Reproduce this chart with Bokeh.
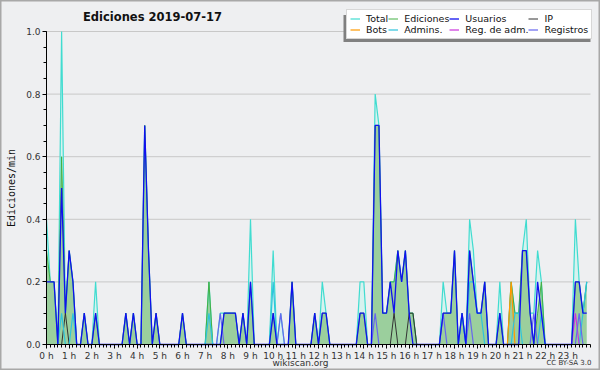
from bokeh.plotting import figure
from bokeh.models import (ColumnDataSource, Range1d, FixedTicker, Legend, LegendItem,
                          Label)
from bokeh.embed import file_html
from bokeh.resources import INLINE

TITLE = "Ediciones  2019-07-17"
Y_LABEL = "Ediciones/min"
HOURS = list(range(24))
HOUR_LABELS = [f"{h} h" for h in HOURS]
Y_TICKS = [0.0, 0.2, 0.4, 0.6, 0.8, 1.0]
BIN_MINUTES = 10

# actions per 10-minute bin (144 bins, two hours per row)
TOTAL = [4, 2, 2, 0, 10, 1, 3, 2, 0, 0, 1, 0,
         0, 2, 0, 0, 0, 0, 0, 0, 0, 1, 0, 1,
         0, 0, 7, 3, 0, 1, 0, 0, 0, 0, 0, 0,
         1, 0, 0, 0, 0, 0, 0, 2, 0, 0, 1, 1,
         1, 1, 1, 0, 1, 0, 4, 0, 0, 0, 0, 0,
         3, 0, 1, 0, 0, 2, 0, 0, 0, 0, 0, 1,
         0, 2, 1, 0, 0, 0, 0, 0, 0, 0, 0, 2,
         2, 0, 0, 8, 7, 1, 1, 2, 2, 3, 2, 3,
         1, 1, 0, 0, 0, 0, 0, 0, 0, 2, 1, 1,
         3, 0, 1, 0, 4, 3, 1, 1, 2, 0, 0, 0,
         2, 0, 0, 2, 1, 1, 3, 4, 1, 1, 3, 2,
         0, 0, 0, 0, 0, 0, 0, 0, 4, 2, 1, 2]

EDICIONES = [3, 2, 2, 0, 6, 1, 3, 2, 0, 0, 1, 0,
             0, 1, 0, 0, 0, 0, 0, 0, 0, 1, 0, 1,
             0, 0, 7, 3, 0, 1, 0, 0, 0, 0, 0, 0,
             1, 0, 0, 0, 0, 0, 0, 2, 0, 0, 0, 1,
             1, 1, 1, 0, 1, 0, 2, 0, 0, 0, 0, 0,
             1, 0, 0, 0, 0, 2, 0, 0, 0, 0, 0, 1,
             0, 1, 1, 0, 0, 0, 0, 0, 0, 0, 0, 1,
             1, 0, 0, 7, 7, 1, 1, 2, 2, 3, 2, 3,
             1, 1, 0, 0, 0, 0, 0, 0, 0, 1, 1, 1,
             3, 0, 1, 0, 3, 2, 1, 1, 2, 0, 0, 0,
             1, 0, 0, 2, 1, 1, 3, 3, 1, 0, 1, 2,
             0, 0, 0, 0, 0, 0, 0, 0, 2, 2, 1, 2]

USUARIOS = [2, 2, 2, 0, 5, 1, 3, 2, 0, 0, 1, 0,
            0, 1, 0, 0, 0, 0, 0, 0, 0, 1, 0, 1,
            0, 0, 7, 3, 0, 1, 0, 0, 0, 0, 0, 0,
            1, 0, 0, 0, 0, 0, 0, 0, 0, 0, 0, 1,
            1, 1, 1, 0, 1, 0, 2, 0, 0, 0, 0, 0,
            1, 0, 0, 0, 0, 2, 0, 0, 0, 0, 0, 1,
            0, 1, 1, 0, 0, 0, 0, 0, 0, 0, 0, 1,
            1, 0, 0, 7, 7, 1, 1, 2, 1, 3, 2, 3,
            1, 0, 0, 0, 0, 0, 0, 0, 0, 1, 1, 1,
            3, 0, 1, 0, 3, 2, 1, 1, 2, 0, 0, 0,
            1, 0, 0, 0, 0, 0, 3, 3, 1, 0, 2, 1,
            0, 0, 0, 0, 0, 0, 0, 0, 2, 2, 1, 1]

IP = [0, 0, 0, 0, 0, 1, 0, 0, 0, 0, 0, 0,
      0, 0, 0, 0, 0, 0, 0, 0, 0, 0, 0, 0,
      0, 0, 0, 0, 0, 0, 0, 0, 0, 0, 0, 0,
      0, 0, 0, 0, 0, 0, 0, 0, 0, 0, 0, 0,
      0, 0, 0, 0, 0, 0, 0, 0, 0, 0, 0, 0,
      0, 0, 0, 0, 0, 0, 0, 0, 0, 0, 0, 0,
      0, 0, 0, 0, 0, 0, 0, 0, 0, 0, 0, 0,
      0, 0, 0, 0, 0, 0, 0, 0, 1, 0, 0, 0,
      1, 1, 0, 0, 0, 0, 0, 0, 0, 0, 0, 0,
      0, 0, 0, 0, 0, 0, 0, 0, 0, 0, 0, 0,
      0, 0, 0, 0, 0, 0, 0, 0, 0, 0, 0, 0,
      0, 0, 0, 0, 0, 0, 0, 0, 0, 0, 0, 0]

BOTS = [0, 0, 0, 0, 0, 0, 0, 0, 0, 0, 0, 0,
        0, 0, 0, 0, 0, 0, 0, 0, 0, 0, 0, 0,
        0, 0, 0, 0, 0, 0, 0, 0, 0, 0, 0, 0,
        0, 0, 0, 0, 0, 0, 0, 0, 0, 0, 0, 0,
        0, 0, 0, 0, 0, 0, 0, 0, 0, 0, 0, 0,
        0, 0, 0, 0, 0, 0, 0, 0, 0, 0, 0, 0,
        0, 0, 0, 0, 0, 0, 0, 0, 0, 0, 0, 0,
        0, 0, 0, 0, 0, 0, 0, 0, 0, 0, 0, 0,
        0, 0, 0, 0, 0, 0, 0, 0, 0, 0, 0, 0,
        0, 0, 0, 0, 0, 0, 0, 0, 0, 0, 0, 0,
        0, 0, 0, 2, 0, 0, 0, 0, 0, 0, 0, 0,
        0, 0, 0, 0, 0, 0, 0, 0, 0, 0, 0, 0]

ADMINS = [0, 0, 0, 0, 1, 0, 0, 1, 0, 0, 0, 0,
          0, 0, 0, 0, 0, 0, 0, 0, 0, 0, 0, 0,
          0, 0, 0, 0, 0, 0, 0, 0, 0, 0, 0, 0,
          0, 0, 0, 0, 0, 0, 0, 1, 0, 0, 0, 0,
          0, 0, 0, 0, 0, 0, 0, 0, 0, 0, 0, 0,
          2, 0, 0, 0, 0, 0, 0, 0, 0, 0, 0, 0,
          0, 0, 0, 0, 0, 0, 0, 0, 0, 0, 0, 0,
          0, 0, 0, 0, 0, 0, 0, 0, 0, 0, 0, 0,
          0, 0, 0, 0, 0, 0, 0, 0, 0, 0, 0, 0,
          0, 0, 1, 0, 2, 2, 1, 1, 0, 0, 0, 0,
          0, 0, 0, 0, 1, 1, 0, 0, 0, 0, 0, 1,
          0, 0, 0, 0, 0, 0, 0, 0, 0, 0, 1, 2]

REG_ADM = [0, 0, 0, 0, 0, 0, 0, 0, 0, 0, 0, 0,
           0, 0, 0, 0, 0, 0, 0, 0, 0, 0, 0, 0,
           0, 0, 0, 0, 0, 0, 0, 0, 0, 0, 0, 0,
           0, 0, 0, 0, 0, 0, 0, 0, 0, 0, 0, 0,
           0, 0, 0, 0, 0, 0, 0, 0, 0, 0, 0, 0,
           0, 0, 0, 0, 0, 0, 0, 0, 0, 0, 0, 0,
           0, 0, 0, 0, 0, 0, 0, 0, 0, 0, 0, 0,
           0, 0, 0, 0, 0, 0, 0, 0, 0, 0, 0, 0,
           0, 0, 0, 0, 0, 0, 0, 0, 0, 0, 0, 0,
           0, 0, 0, 0, 0, 0, 0, 0, 0, 0, 0, 0,
           0, 0, 0, 0, 0, 0, 0, 0, 0, 0, 0, 0,
           0, 0, 0, 0, 0, 0, 0, 0, 1, 0, 0, 0]

REGISTROS = [0, 0, 0, 0, 0, 0, 0, 0, 0, 0, 0, 0,
             0, 0, 0, 0, 0, 0, 0, 0, 0, 0, 0, 0,
             0, 0, 0, 0, 0, 0, 0, 0, 0, 0, 0, 0,
             0, 0, 0, 0, 0, 0, 0, 0, 0, 0, 1, 0,
             0, 0, 0, 0, 0, 0, 0, 0, 0, 0, 0, 0,
             0, 0, 1, 0, 0, 0, 0, 0, 0, 0, 0, 0,
             0, 0, 0, 0, 0, 0, 0, 0, 0, 0, 0, 0,
             0, 0, 0, 1, 0, 0, 0, 0, 0, 0, 0, 0,
             0, 0, 0, 0, 0, 0, 0, 0, 0, 1, 0, 0,
             0, 0, 0, 0, 1, 0, 0, 0, 0, 0, 0, 0,
             0, 0, 0, 0, 0, 0, 0, 0, 0, 1, 0, 0,
             0, 0, 0, 0, 0, 0, 0, 0, 0, 1, 0, 0]

FONT = "DejaVu Sans"
BG = "#eeeff1"

# page geometry (pixels): plot area inside the 600x370 canvas
W, H = 600, 370
PLOT_L, PLOT_R, PLOT_T, PLOT_B = 46, 590, 31, 344
X_MAX, Y_MAX = 24, 1.0


def per_minute(counts):
    return [c / BIN_MINUTES for c in counts]


x_hours = [i * BIN_MINUTES / 60 for i in range(len(TOTAL))]
src = ColumnDataSource(dict(
    x=x_hours,
    zero=[0.0] * len(TOTAL),
    total=per_minute(TOTAL),
    ediciones=per_minute(EDICIONES),
    usuarios=per_minute(USUARIOS),
    ip=per_minute(IP),
    bots=per_minute(BOTS),
    admins=per_minute(ADMINS),
    regadm=per_minute(REG_ADM),
    registros=per_minute(REGISTROS),
))

# the frame fills the whole canvas; ranges are widened so 0..24 h / 0..1 sit in the plot box
px_per_h = (PLOT_R - PLOT_L) / X_MAX
px_per_y = (PLOT_B - PLOT_T) / Y_MAX
x_range = Range1d(-PLOT_L / px_per_h, X_MAX + (W - PLOT_R) / px_per_h)
y_range = Range1d(-(H - PLOT_B) / px_per_y, Y_MAX + PLOT_T / px_per_y)


def px_x(px):
    return (px - PLOT_L) / px_per_h


def px_y(py):
    return (PLOT_B - py) / px_per_y


p = figure(width=W, height=H, x_range=x_range, y_range=y_range,
           output_backend="svg", toolbar_location=None,
           min_border=0, min_border_left=0, min_border_right=0,
           min_border_top=0, min_border_bottom=0,
           background_fill_color=BG, border_fill_color=BG)
p.outline_line_color = "#a8a8a8"
p.outline_line_width = 2
p.xgrid.visible = False
p.ygrid.visible = False

# horizontal grid lines at the labelled ticks
p.segment(x0=[0] * (len(Y_TICKS) - 1), x1=[X_MAX] * (len(Y_TICKS) - 1),
          y0=Y_TICKS[1:], y1=Y_TICKS[1:], line_color="#c8c8c8", line_width=1)

# legend drop shadow (decoration behind the legend box)
p.quad(left=[px_x(343)], right=[px_x(590)], bottom=[px_y(41.5)], top=[px_y(14.5)],
       fill_color="#808080", fill_alpha=1, line_color=None)

# fills
p.varea(x="x", y1="zero", y2="total", source=src, fill_color="#d4f2ee", fill_alpha=0.9)
p.varea(x="x", y1="zero", y2="ediciones", source=src, fill_color="#98cc98", fill_alpha=0.95)

# lines
r_total = p.line("x", "total", source=src, line_color="#40dcd0", line_width=1.2)
r_edic = p.line("x", "ediciones", source=src, line_color="#44b044", line_width=1)
r_ip = p.line("x", "ip", source=src, line_color="#333333", line_width=1)
r_bots = p.line("x", "bots", source=src, line_color="#ff9900", line_width=1.2)
r_adm = p.line("x", "admins", source=src, line_color="#2ec4dc", line_width=1.2)
r_regadm = p.line("x", "regadm", source=src, line_color="#cc33dd", line_width=1.2)
r_reg = p.line("x", "registros", source=src, line_color="#6666ee", line_width=1.2)
r_usu = p.line("x", "usuarios", source=src, line_color="#1010f0", line_width=1.3)

# axes drawn at fixed locations inside the frame
p.xaxis.fixed_location = 0
p.yaxis.fixed_location = 0
p.xaxis.bounds = (0, X_MAX)
p.yaxis.bounds = (0, Y_MAX)
p.xaxis.ticker = FixedTicker(ticks=HOURS,
                             minor_ticks=[k * BIN_MINUTES / 60 for k in range(24 * 6 + 1)])
p.xaxis.major_label_overrides = {h: lab for h, lab in zip(HOURS, HOUR_LABELS)}
p.yaxis.ticker = FixedTicker(ticks=Y_TICKS, minor_ticks=[k * 0.05 for k in range(21)])
p.yaxis.major_label_overrides = {t: f"{t:.1f}" for t in Y_TICKS}
for ax in (p.xaxis[0], p.yaxis[0]):
    ax.axis_line_color = "black"
    ax.major_tick_line_color = "black"
    ax.minor_tick_line_color = "black"
    ax.major_tick_in = 0
    ax.minor_tick_in = 0
    ax.major_tick_out = 4
    ax.minor_tick_out = 3
    ax.major_label_text_font = FONT
    ax.major_label_text_font_size = "9px"
    ax.major_label_text_color = "#333333"
    ax.major_label_standoff = 2
p.yaxis.axis_label = Y_LABEL
p.yaxis.axis_label_text_font = "DejaVu Sans Mono"
p.yaxis.axis_label_text_font_size = "10px"
p.yaxis.axis_label_text_font_style = "normal"
p.yaxis.axis_label_text_color = "#111111"
p.yaxis.axis_label_standoff = 6

# title
p.add_layout(Label(x=154, y=H - 16, x_units="screen", y_units="screen", text=TITLE,
                   text_font=FONT, text_font_size="11.5px", text_font_style="bold",
                   text_color="#111111", text_align="center", text_baseline="middle"))

legend = Legend(items=[
    LegendItem(label="Total", renderers=[r_total]),
    LegendItem(label="Ediciones", renderers=[r_edic]),
    LegendItem(label="Usuarios", renderers=[r_usu]),
    LegendItem(label="IP", renderers=[r_ip]),
    LegendItem(label="Bots", renderers=[r_bots]),
    LegendItem(label="Admins.", renderers=[r_adm]),
    LegendItem(label="Reg. de adm.", renderers=[r_regadm]),
    LegendItem(label="Registros", renderers=[r_reg]),
], location=(346, H - 38.5), orientation="horizontal", ncols=4)
legend.label_text_font = FONT
legend.label_text_font_size = "9.5px"
legend.label_text_color = "#111111"
legend.label_height = 9
legend.glyph_height = 9
legend.glyph_width = 10
legend.label_standoff = 6
legend.spacing = 0
legend.padding = 3
legend.margin = 0
legend.background_fill_color = "white"
legend.background_fill_alpha = 1
legend.border_line_color = "#b0b0b0"
p.add_layout(legend, "center")

# footer texts
p.add_layout(Label(x=300, y=H - 362, x_units="screen", y_units="screen", text="wikiscan.org",
                   text_font=FONT, text_font_size="9px", text_color="#333333",
                   text_align="center", text_baseline="middle"))
p.add_layout(Label(x=591, y=H - 362, x_units="screen", y_units="screen", text="CC BY-SA 3.0",
                   text_font=FONT, text_font_size="7px", text_color="#333333",
                   text_align="right", text_baseline="middle"))

open("out.html", "w").write(file_html(p, INLINE))
